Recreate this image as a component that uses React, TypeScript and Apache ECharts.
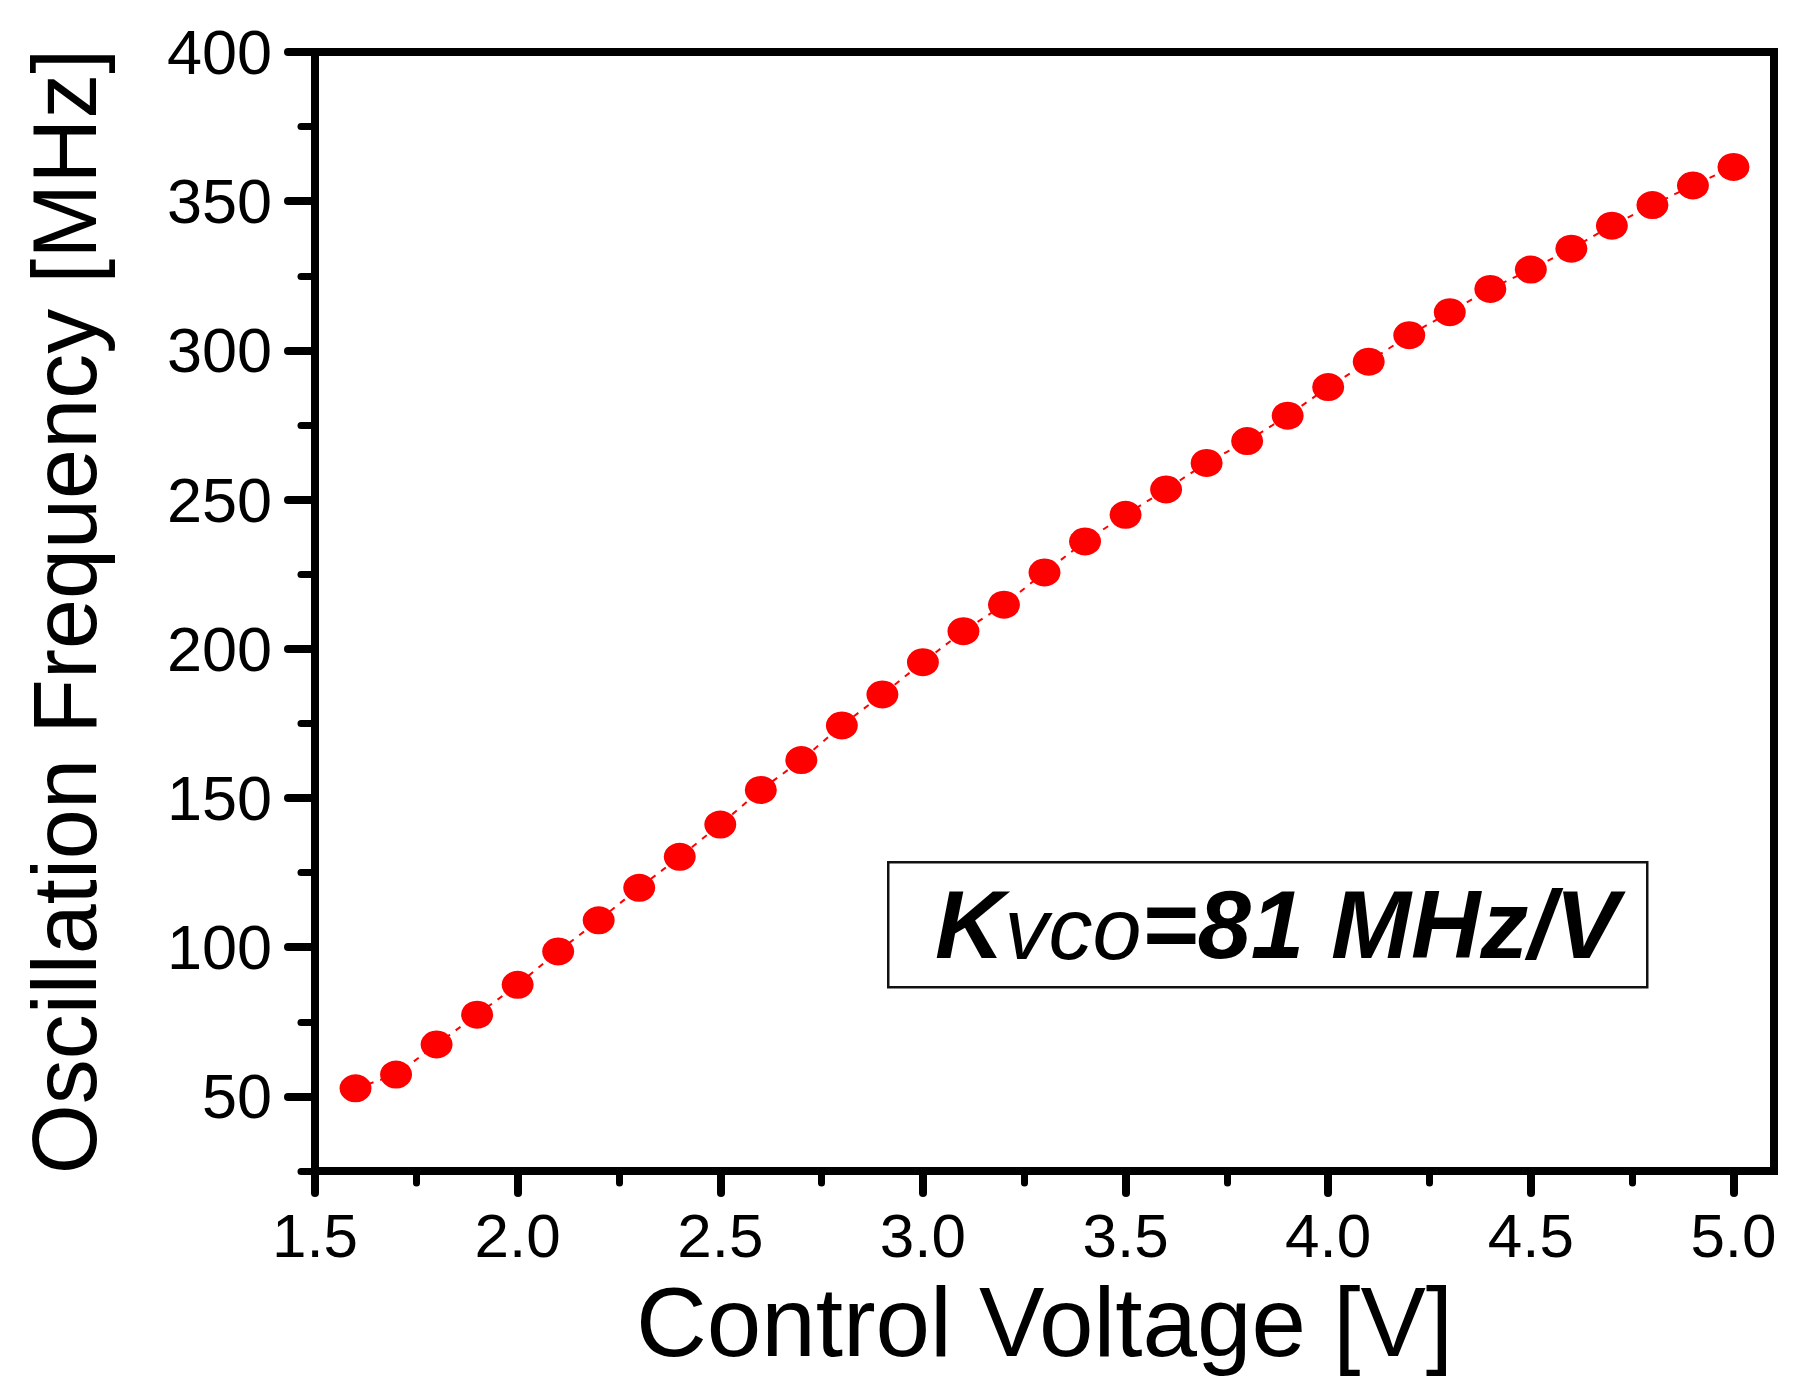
import React, { useEffect, useRef } from "react";
import * as echarts from "echarts";

const voltage = [
  1.6, 1.7, 1.8, 1.9, 2.0, 2.1, 2.2, 2.3, 2.4, 2.5, 2.6, 2.7, 2.8, 2.9, 3.0, 3.1, 3.2, 3.3,
  3.4, 3.5, 3.6, 3.7, 3.8, 3.9, 4.0, 4.1, 4.2, 4.3, 4.4, 4.5, 4.6, 4.7, 4.8, 4.9, 5.0,
];
const frequency = [
  52.7, 57.3, 67.4, 77.4, 87.4, 98.6, 109.0, 119.9, 130.3, 141.1, 152.7, 162.7, 174.3, 184.7,
  195.5, 205.9, 214.8, 225.6, 236.0, 244.9, 253.4, 262.3, 269.6, 278.1, 287.7, 296.2, 305.1,
  312.8, 320.6, 327.1, 334.1, 341.8, 348.7, 355.3, 361.5,
];
const xMajorTicks = [1.5, 2.0, 2.5, 3.0, 3.5, 4.0, 4.5, 5.0];
const xMinorTicks = [1.75, 2.25, 2.75, 3.25, 3.75, 4.25, 4.75];
const yMajorTicks = [50, 100, 150, 200, 250, 300, 350, 400];
const yMinorTicks = [25, 75, 125, 175, 225, 275, 325, 375];
const xTitle = "Control Voltage [V]";
const yTitle = "Oscillation Frequency [MHz]";

const FONT = "'Liberation Sans', Arial, sans-serif";

export default function App() {
  const ref = useRef<HTMLDivElement>(null);
  useEffect(() => {
    if (!ref.current) return;
    const chart = echarts.init(ref.current, null, { renderer: "svg" });
    const xMin = 1.5, xMax = 5.1, yMin = 25, yMax = 400;
    chart.setOption({
      animation: false,
      backgroundColor: "#ffffff",
      grid: {
        left: 315,
        top: 52,
        right: 31,
        bottom: 227,
        show: true,
        borderColor: "#000",
        borderWidth: 8,
        backgroundColor: "transparent",
      },
      xAxis: [
        {
          type: "value",
          position: "bottom",
          min: xMin,
          max: xMax,
          name: xTitle,
          nameLocation: "middle",
          nameGap: 102,
          nameTextStyle: { fontFamily: FONT, fontSize: 98, color: "#000" },
          axisLine: { show: true, onZero: false, lineStyle: { color: "#000", width: 8, cap: "round" } },
          axisTick: {
            show: true,
            inside: false,
            length: 22,
            customValues: xMajorTicks,
            lineStyle: { color: "#000", width: 8, cap: "round" },
          },
          axisLabel: {
            show: true,
            customValues: xMajorTicks,
            margin: 33,
            fontFamily: FONT,
            fontSize: 62,
            color: "#000",
            formatter: (v: number) => v.toFixed(1),
          },
          splitLine: { show: false },
        },
        {
          type: "value",
          position: "bottom",
          min: xMin,
          max: xMax,
          axisLine: { show: false, onZero: false },
          axisTick: {
            show: true,
            inside: false,
            length: 12,
            customValues: xMinorTicks,
            lineStyle: { color: "#000", width: 7, cap: "round" },
          },
          axisLabel: { show: false },
          splitLine: { show: false },
        },
      ],
      yAxis: [
        {
          type: "value",
          position: "left",
          min: yMin,
          max: yMax,
          name: yTitle,
          nameLocation: "middle",
          nameGap: 205,
          nameTextStyle: { fontFamily: FONT, fontSize: 90, color: "#000" },
          axisLine: { show: true, onZero: false, lineStyle: { color: "#000", width: 8, cap: "round" } },
          axisTick: {
            show: true,
            inside: false,
            length: 27,
            customValues: yMajorTicks,
            lineStyle: { color: "#000", width: 8, cap: "round" },
          },
          axisLabel: {
            show: true,
            customValues: yMajorTicks,
            margin: 43,
            fontFamily: FONT,
            fontSize: 63,
            color: "#000",
          },
          splitLine: { show: false },
        },
        {
          type: "value",
          position: "left",
          min: yMin,
          max: yMax,
          axisLine: { show: false, onZero: false },
          axisTick: {
            show: true,
            inside: false,
            length: 14,
            customValues: yMinorTicks,
            lineStyle: { color: "#000", width: 7, cap: "round" },
          },
          axisLabel: { show: false },
          splitLine: { show: false },
        },
      ],
      series: [
        {
          type: "line",
          xAxisIndex: 0,
          yAxisIndex: 0,
          data: voltage.map((v, i) => [v, frequency[i]]),
          symbol: "circle",
          symbolSize: [32, 28],
          showSymbol: true,
          itemStyle: { color: "#ff0000" },
          lineStyle: { color: "#ff0000", width: 2, type: [6, 7] },
          z: 3,
        },
      ],
      graphic: [
        {
          type: "rect",
          left: 887,
          top: 861,
          shape: { width: 759, height: 125 },
          style: { fill: "#ffffff", stroke: "#111", lineWidth: 2.5 },
          z: 10,
        },
        {
          type: "text",
          x: 1277,
          y: 924,
          z: 11,
          style: {
            text: "{a|K}{b|vco}{a|=81 MHz/V}",
            textAlign: "center",
            textVerticalAlign: "middle",
            rich: {
              a: {
                fontFamily: FONT,
                fontSize: 96,
                fontWeight: "bold",
                fontStyle: "italic",
                fill: "#000",
                verticalAlign: "bottom",
              },
              b: {
                fontFamily: FONT,
                fontSize: 88,
                fontStyle: "italic",
                fill: "#000",
                verticalAlign: "bottom",
              },
            },
          },
        },
      ],
    });
    return () => chart.dispose();
  }, []);
  return (
    <div
      ref={ref}
      style={{ position: "absolute", left: 0, top: 0, width: 1805, height: 1398, background: "#fff" }}
    />
  );
}
